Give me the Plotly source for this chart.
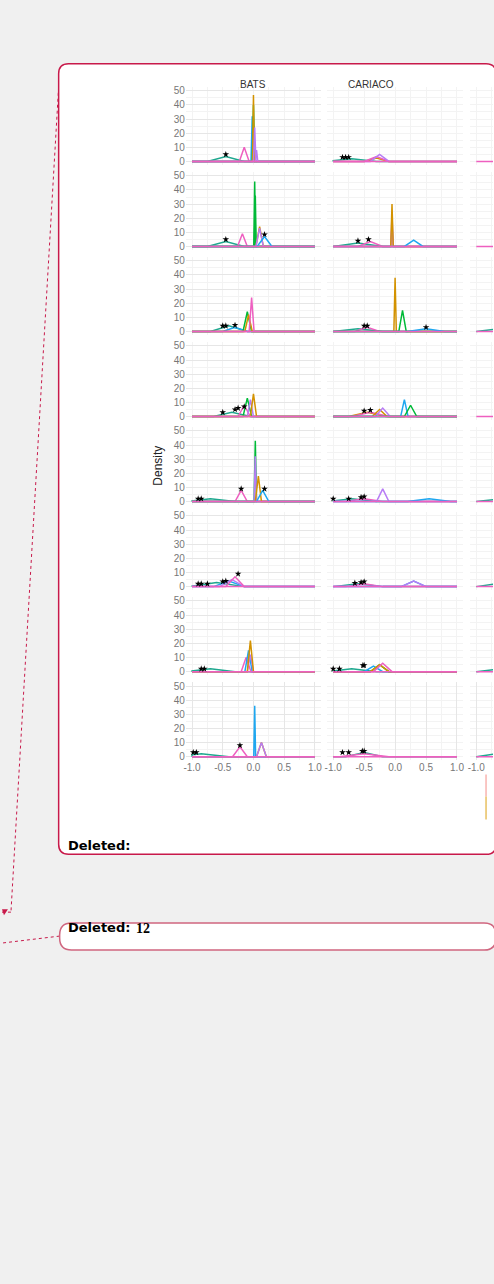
import plotly.graph_objects as go

W, H = 494, 1284
COL = {"red": "#F8766D", "gold": "#D39200", "green": "#00BA38", "teal": "#1FA88F",
       "blue": "#1EA7F0", "purple": "#B77CF5", "pink": "#EE5FC0"}

# per-panel curves: (colour, centre, peak density, half width)
bats = [
    [("teal", -0.45, 3.5, 0.3), ("pink", -0.15, 10, 0.08), ("blue", -0.02, 32, 0.02), ("green", 0.0, 40, 0.02),
     ("gold", 0.0, 47, 0.015), ("purple", 0.02, 24, 0.02), ("purple", 0.05, 8, 0.02)],
    [("teal", -0.45, 3.5, 0.3), ("pink", -0.18, 9, 0.08), ("green", 0.02, 46, 0.015), ("green", 0.03, 36, 0.015),
     ("gold", 0.1, 14, 0.06), ("purple", 0.1, 13, 0.06), ("blue", 0.18, 7, 0.12)],
    [("teal", -0.4, 4, 0.3), ("blue", -0.3, 3, 0.2), ("green", -0.1, 14, 0.07), ("gold", -0.08, 12, 0.06),
     ("pink", -0.03, 24, 0.04)],
    [("teal", -0.35, 3, 0.3), ("pink", -0.15, 8, 0.1), ("green", -0.1, 13, 0.07), ("purple", -0.05, 12, 0.05),
     ("gold", 0.0, 16, 0.05)],
    [("teal", -0.7, 2, 0.4), ("pink", -0.2, 8, 0.1), ("green", 0.03, 43, 0.02), ("purple", 0.03, 32, 0.02),
     ("gold", 0.08, 18, 0.05), ("blue", 0.15, 8, 0.1)],
    [("teal", -0.6, 3, 0.45), ("blue", -0.4, 4, 0.25), ("purple", -0.35, 5, 0.2), ("pink", -0.3, 7, 0.15)],
    [("teal", -0.7, 2, 0.4), ("pink", -0.12, 10, 0.08), ("blue", -0.08, 15, 0.06), ("purple", -0.05, 12, 0.05),
     ("gold", -0.05, 22, 0.05)],
    [("teal", -0.85, 2, 0.45), ("pink", -0.22, 7, 0.12), ("blue", 0.02, 36, 0.015), ("gold", 0.13, 10, 0.08),
     ("purple", 0.13, 10, 0.08)],
]
cariaco = [
    [("teal", -0.7, 2, 0.4), ("gold", -0.3, 2.5, 0.2), ("pink", -0.3, 3.5, 0.2), ("purple", -0.25, 5, 0.15)],
    [("teal", -0.6, 2.5, 0.4), ("pink", -0.4, 3.5, 0.2), ("pink", -0.05, 15, 0.02), ("purple", -0.05, 22, 0.02),
     ("gold", -0.05, 30, 0.02), ("blue", 0.3, 4.5, 0.15)],
    [("teal", -0.6, 2, 0.4), ("pink", -0.45, 3, 0.2), ("gold", 0.0, 38, 0.02), ("green", 0.12, 15, 0.06),
     ("blue", 0.5, 2, 0.3)],
    [("gold", -0.45, 3, 0.3), ("pink", -0.4, 3, 0.3), ("gold", -0.25, 5, 0.12), ("purple", -0.2, 6, 0.12),
     ("blue", 0.15, 12, 0.06), ("green", 0.25, 8, 0.1)],
    [("teal", -0.7, 2, 0.4), ("pink", -0.5, 2, 0.3), ("purple", -0.2, 9, 0.1), ("blue", 0.55, 2, 0.35)],
    [("teal", -0.6, 2, 0.4), ("pink", -0.5, 2, 0.3), ("blue", 0.3, 4, 0.2), ("purple", 0.3, 4, 0.2)],
    [("teal", -0.7, 2, 0.4), ("blue", -0.35, 4, 0.15), ("green", -0.25, 5, 0.15), ("gold", -0.25, 5, 0.15),
     ("pink", -0.2, 6, 0.15)],
    [("teal", -0.5, 3, 0.3), ("pink", -0.5, 2, 0.4)],
]
third = [[], [], [("teal", -0.6, 2, 0.4)], [], [("teal", -0.6, 2, 0.4)], [("teal", -0.6, 2.5, 0.4)],
         [("teal", -0.6, 2, 0.4)], [("teal", -0.6, 2.5, 0.4)]]

# significance stars: (x, y)
bats_stars = [[(-0.45, 5)], [(-0.45, 5), (0.18, 8.5)], [(-0.5, 4), (-0.45, 4), (-0.3, 4.5)],
              [(-0.5, 3), (-0.3, 5), (-0.25, 6), (-0.15, 7)], [(-0.9, 2), (-0.85, 2), (-0.2, 9), (0.18, 9)],
              [(-0.9, 2), (-0.85, 2), (-0.75, 2), (-0.5, 3.5), (-0.45, 4), (-0.25, 9)],
              [(-0.85, 2), (-0.8, 2)], [(-0.98, 3), (-0.93, 3), (-0.22, 8)]]
cariaco_stars = [[(-0.85, 3), (-0.8, 3), (-0.75, 3)], [(-0.6, 4), (-0.43, 5)], [(-0.5, 4), (-0.45, 4), (0.5, 3)],
                 [(-0.5, 4), (-0.4, 4.5)], [(-1.0, 2), (-0.75, 2), (-0.55, 3), (-0.5, 3.5)],
                 [(-0.65, 2.5), (-0.55, 3), (-0.5, 3.5)], [(-1.0, 2), (-0.9, 2), (-0.52, 4.5), (-0.5, 4.5)],
                 [(-0.85, 3), (-0.75, 3), (-0.53, 4), (-0.5, 4)]]
facets = ["BATS", "CARIACO", ""]
x_ticks = [-1.0, -0.5, 0.0, 0.5, 1.0]
y_ticks = [0, 10, 20, 30, 40, 50]

def px(x): return x / W
def py(y): return 1 - y / H

def tri(c, h, w):
    xs, ys = [c - w, c, c + w], [0, h, 0]
    out_x, out_y = [], []
    for i in range(len(xs)):
        if -1 <= xs[i] <= 1:
            out_x.append(xs[i]); out_y.append(ys[i])
        elif xs[i] < -1 and xs[i + 1] > -1:
            t = (-1 - xs[i]) / (xs[i + 1] - xs[i])
            out_x.append(-1); out_y.append(ys[i] + t * (ys[i + 1] - ys[i]))
    return out_x, out_y

fig = go.Figure()
layout = {}
col_px = [(185, 321), (327, 464), (471, 494)]
col_rng = [[-1.1, 1.1], [-1.1, 1.1], [-1.1, -1.1 + 23 / 62]]
for r in range(8):
    bottom = 163.5 + 85.3 * r
    top = bottom - 78
    for c in range(3):
        k = r * 3 + c + 1
        sfx = "" if k == 1 else str(k)
        layout["xaxis" + sfx] = dict(domain=[px(col_px[c][0]), px(col_px[c][1])], anchor="y" + sfx,
                                     range=col_rng[c], tickvals=x_ticks if r == 7 else [],
                                     ticktext=["%.1f" % v for v in x_ticks] if r == 7 else [],
                                     showgrid=True, gridcolor="#e6e6e6", gridwidth=1, zeroline=False,
                                     minor=dict(dtick=0.25, tick0=0, showgrid=True, gridcolor="#f3f3f3"),
                                     ticks="", tickfont=dict(size=10, color="#777"), showline=False, fixedrange=True)
        layout["yaxis" + sfx] = dict(domain=[py(bottom), py(top)], anchor="x" + sfx, range=[-2.5, 52.5],
                                     tickvals=y_ticks if c == 0 else [], showgrid=True, gridcolor="#e6e6e6",
                                     minor=dict(dtick=5, tick0=0, showgrid=True, gridcolor="#f3f3f3"),
                                     zeroline=False, ticks="", tickfont=dict(size=10, color="#777"),
                                     showline=False, fixedrange=True)
        curves = [bats, cariaco, third][c][r]
        for name, cc, h, w in curves:
            xs, ys = tri(cc, h, w)
            fig.add_trace(go.Scatter(x=[-1] + xs + [1], y=[0] + ys + [0], mode="lines",
                                     line=dict(color=COL[name], width=1.5), xaxis="x" + sfx, yaxis="y" + sfx,
                                     showlegend=False, hoverinfo="skip"))
        fig.add_trace(go.Scatter(x=[-1, 1], y=[0, 0], mode="lines", line=dict(color=COL["pink"], width=1.5),
                                 xaxis="x" + sfx, yaxis="y" + sfx, showlegend=False, hoverinfo="skip"))
        stars = [bats_stars, cariaco_stars, [[]] * 8][c][r]
        if stars:
            fig.add_trace(go.Scatter(x=[s[0] for s in stars], y=[s[1] for s in stars], mode="markers",
                                     marker=dict(symbol="star", size=5, color="black"),
                                     xaxis="x" + sfx, yaxis="y" + sfx, showlegend=False, hoverinfo="skip"))

def rbox(x0, y0, x1, y1, r):
    X0, X1 = px(x0), px(x1)
    Y0, Y1 = py(y0), py(y1)
    rx, ry = r / W, r / H
    return (f"M {X0+rx},{Y0} L {X1-rx},{Y0} Q {X1},{Y0} {X1},{Y0-ry} L {X1},{Y1+ry} Q {X1},{Y1} {X1-rx},{Y1} "
            f"L {X0+rx},{Y1} Q {X0},{Y1} {X0},{Y1+ry} L {X0},{Y0-ry} Q {X0},{Y0} {X0+rx},{Y0} Z")

red = "#C8194A"
shapes = [
    dict(type="line", xref="paper", yref="paper", x0=px(57), y0=py(85), x1=px(9), y1=py(913),
         line=dict(color=red, width=1, dash="dot"), layer="below"),
    dict(type="line", xref="paper", yref="paper", x0=px(9), y0=py(913), x1=px(0), y1=py(913),
         line=dict(color=red, width=1, dash="dot"), layer="below"),
    dict(type="path", xref="paper", yref="paper", path=f"M {px(0)},{py(910)} L {px(6)},{py(910)} L {px(2)},{py(916)} Z",
         fillcolor=red, line=dict(width=0)),
    dict(type="line", xref="paper", yref="paper", x0=px(58), y0=py(937), x1=px(0), y1=py(944),
         line=dict(color=red, width=1, dash="dot"), layer="below"),
    dict(type="path", xref="paper", yref="paper", path=rbox(57, 62, 497, 855, 10), fillcolor="white",
         line=dict(color=red, width=1.5), layer="below"),
    dict(type="path", xref="paper", yref="paper", path=rbox(58, 924, 497, 951, 12), fillcolor="white",
         line=dict(color="#D0667F", width=1.5), layer="below"),
    dict(type="line", xref="paper", yref="paper", x0=px(487), y0=py(775), x1=px(487), y1=py(797),
         line=dict(color="#F8B4B0", width=1.5)),
    dict(type="line", xref="paper", yref="paper", x0=px(487), y0=py(797), x1=px(487), y1=py(820),
         line=dict(color="#E8C060", width=1.5)),
]
annotations = [
    dict(text="BATS", x=px(253), y=py(75), xref="paper", yref="paper", showarrow=False,
         font=dict(size=10, color="#333", family="Liberation Sans")),
    dict(text="CARIACO", x=px(396), y=py(75), xref="paper", yref="paper", showarrow=False,
         font=dict(size=10, color="#333", family="Liberation Sans")),
    dict(text="Density", x=px(147), y=py(465), xref="paper", yref="paper", showarrow=False, textangle=-90,
         font=dict(size=12, color="#222", family="Liberation Sans")),
    dict(text="<b>Deleted:</b>", x=px(64), y=py(846), xref="paper", yref="paper", showarrow=False, xanchor="left",
         font=dict(size=13, color="black", family="DejaVu Sans")),
    dict(text="<b>Deleted:</b>", x=px(64), y=py(938), xref="paper", yref="paper", showarrow=False, xanchor="left",
         font=dict(size=13, color="black", family="DejaVu Sans")),
    dict(text="<b>12</b>", x=px(133), y=py(939), xref="paper", yref="paper", showarrow=False, xanchor="left",
         font=dict(size=14, color="black", family="Liberation Serif")),
]
fig.update_layout(width=W, height=H, margin=dict(l=0, r=0, t=0, b=0), paper_bgcolor="#F0F0F0",
                  plot_bgcolor="white", shapes=shapes, annotations=annotations,
                  font=dict(family="Liberation Sans"), **layout)
fig.write_html("out.html", config={"displayModeBar": False},
               post_script="document.body.style.margin='0';document.body.style.overflow='hidden';")
